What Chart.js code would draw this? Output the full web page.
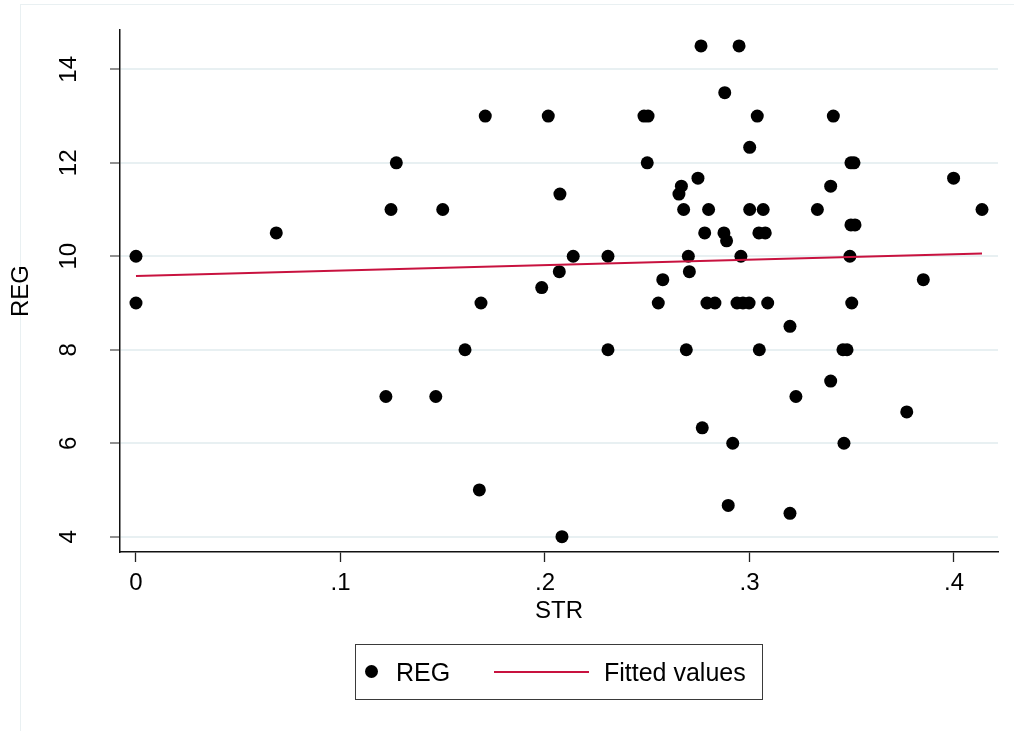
<!DOCTYPE html>
<html>
<head>
<meta charset="utf-8">
<title>REG vs STR</title>
<script src="https://cdn.jsdelivr.net/npm/chart.js@4.4.1/dist/chart.umd.min.js"></script>
<style>
  html, body { margin: 0; padding: 0; background: #fff; overflow: hidden; }
  #wrap { position: relative; width: 1014px; height: 731px; font-family: "Liberation Sans", Arial, sans-serif; overflow: hidden; }
  #frame { position: absolute; left: 20px; top: 4px; width: 1100px; height: 800px; border: 1px solid #e9f0f2; }
  #chart { position: absolute; left: 0; top: 0; }
  #legend { position: absolute; left: 355px; top: 644px; width: 408px; height: 56px; box-sizing: border-box; border: 1.5px solid #3a3a3a; }
  .lg { position: absolute; font-size: 25px; line-height: 28px; height: 28px; color: #000; white-space: nowrap; }
  #lgDot { position: absolute; width: 13px; height: 13px; border-radius: 50%; background: #000; }
  #lgLine { position: absolute; height: 2px; background: #c8123f; }
</style>
</head>
<body>
<div id="wrap">
  <div id="frame"></div>
  <canvas id="chart" width="1014" height="731"></canvas>
  <div id="legend"></div>
  <div id="lgDot" style="left:365px; top:665px;"></div>
  <div class="lg" id="lgReg" style="left:396px; top:658px;"></div>
  <div id="lgLine" style="left:494px; top:671px; width:95px;"></div>
  <div class="lg" id="lgFit" style="left:604px; top:658px;"></div>
</div>
<script>
// values
const regX = [0, 0, 0.0686, 0.1273, 0.1247, 0.150, 0.1708, 0.1687, 0.1609, 0.1222,
              0.1466, 0.1679, 0.2763, 0.2949, 0.2879, 0.2016, 0.2484, 0.2504, 0.2500, 0.2073,
              0.2748, 0.2667, 0.2655, 0.2678, 0.2800, 0.2781, 0.2875, 0.2888, 0.2138, 0.2308,
              0.2701, 0.2958, 0.2070, 0.1984, 0.2576, 0.2706, 0.2554, 0.2792, 0.2831, 0.2939,
              0.2968, 0.2998, 0.3089, 0.3500, 0.2308, 0.2691, 0.2769, 0.2918, 0.2896, 0.2083,
              0.3038, 0.3410, 0.3001, 0.3496, 0.3511, 0.3998, 0.3397, 0.3001, 0.3067, 0.3332,
              0.4137, 0.3496, 0.3516, 0.3046, 0.3077, 0.3491, 0.3850, 0.3198, 0.3048, 0.3457,
              0.3477, 0.3397, 0.3227, 0.3769, 0.3462, 0.3198];
const regY = [10, 9, 10.5, 12, 11, 11, 13, 9, 8, 7,
              7, 5, 14.5, 14.5, 13.5, 13, 13, 13, 12, 11.33,
              11.67, 11.5, 11.33, 11, 11, 10.5, 10.5, 10.33, 10, 10,
              10, 10, 9.67, 9.33, 9.5, 9.67, 9, 9, 9, 9,
              9, 9, 9, 9, 8, 8, 6.33, 6, 4.67, 4,
              13, 13, 12.33, 12, 12, 11.67, 11.5, 11, 11, 11,
              11, 10.67, 10.67, 10.5, 10.5, 10, 9.5, 8.5, 8, 8,
              8, 7.33, 7, 6.67, 6, 4.5];
const fitX = [0, 0.4137];
const fitY = [9.58, 10.06];
const xTicks = [0, 0.1, 0.2, 0.3, 0.4];
const xTickLabels = ['0', '.1', '.2', '.3', '.4'];
const yTicks = [4, 6, 8, 10, 12, 14];
const seriesNames = ['REG', 'Fitted values'];

const FONT = '"Liberation Sans", Arial, sans-serif';
const RED = '#c8123f';

document.getElementById('lgReg').textContent = seriesNames[0];
document.getElementById('lgFit').textContent = seriesNames[1];

// rotated y tick labels, Stata style
const yLabelPlugin = {
    id: 'yLabels',
    afterDraw(chart) {
        const ctx = chart.ctx;
        const y = chart.scales.y;
        ctx.save();
        ctx.font = '24px ' + FONT;
        ctx.fillStyle = '#000';
        ctx.textAlign = 'center';
        ctx.textBaseline = 'middle';
        yTicks.forEach(v => {
            ctx.save();
            ctx.translate(69, y.getPixelForValue(v));
            ctx.rotate(-Math.PI / 2);
            ctx.fillText(String(v), 0, 0);
            ctx.restore();
        });
        ctx.restore();
    }
};

Chart.defaults.font.family = FONT;

new Chart(document.getElementById('chart'), {
    type: 'scatter',
    data: {
        datasets: [
            {
                type: 'line',
                label: seriesNames[1],
                data: fitX.map((x, i) => ({ x: x, y: fitY[i] })),
                borderColor: RED,
                borderWidth: 2,
                pointRadius: 0,
                fill: false,
                tension: 0,
                order: 0
            },
            {
                label: seriesNames[0],
                data: regX.map((x, i) => ({ x: x, y: regY[i] })),
                pointRadius: 6.5,
                pointBorderWidth: 0,
                pointBackgroundColor: '#000',
                backgroundColor: '#000',
                borderColor: '#000',
                order: 1
            }
        ]
    },
    options: {
        responsive: false,
        animation: false,
        devicePixelRatio: 1,
        layout: { padding: { left: 0, top: 30, right: 16, bottom: 0 } },
        plugins: { legend: { display: false }, tooltip: { enabled: false } },
        scales: {
            x: {
                type: 'linear',
                position: 'bottom',
                min: -0.00782,
                max: 0.42152,
                afterBuildTicks: s => { s.ticks = xTicks.map(v => ({ value: v })); },
                afterFit: s => { s.height = 179; },
                ticks: {
                    autoSkip: false,
                    maxRotation: 0,
                    padding: 7,
                    color: '#000',
                    font: { size: 24 },
                    callback: (v, i) => xTickLabels[i]
                },
                grid: { drawOnChartArea: false, drawTicks: true, tickLength: 10, tickColor: '#222', tickWidth: 1.3 },
                border: { display: true, color: '#111', width: 1.5 },
                title: { display: true, text: 'STR', color: '#000', font: { size: 24 }, padding: { top: 0, bottom: 105 } }
            },
            y: {
                type: 'linear',
                position: 'left',
                min: 3.6727,
                max: 14.8408,
                afterBuildTicks: s => { s.ticks = yTicks.map(v => ({ value: v })); },
                afterFit: s => { s.width = 120; },
                ticks: { display: false },
                grid: { color: '#e8f0f2', lineWidth: 2, drawTicks: true, tickLength: 10, tickColor: '#555', tickWidth: 1.3 },
                border: { display: true, color: '#111', width: 1.5 },
                title: { display: true, text: 'REG', color: '#000', font: { size: 24 }, padding: { top: 6.6, bottom: 0 } }
            }
        }
    },
    plugins: [yLabelPlugin]
});
</script>
</body>
</html>
